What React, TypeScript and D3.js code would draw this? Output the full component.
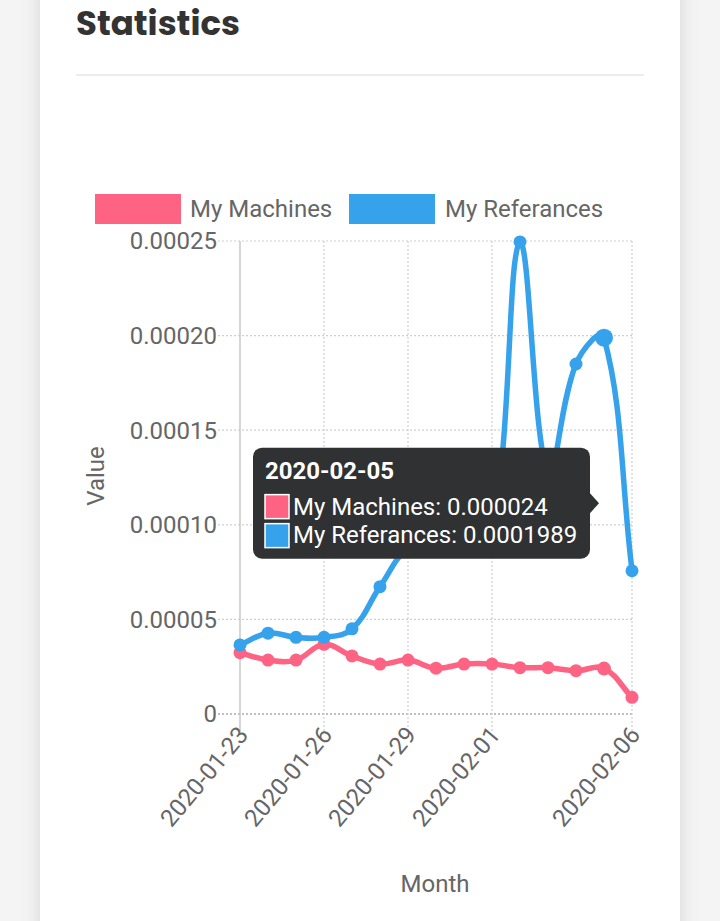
import React from "react";
import * as d3 from "d3";

const dates = [
  "2020-01-23", "2020-01-24", "2020-01-25", "2020-01-26", "2020-01-27",
  "2020-01-28", "2020-01-29", "2020-01-30", "2020-01-31", "2020-02-01",
  "2020-02-02", "2020-02-03", "2020-02-04", "2020-02-05", "2020-02-06",
];
const machines = [
  0.0000324, 0.0000285, 0.0000285, 0.0000368, 0.0000307,
  0.0000264, 0.0000285, 0.0000242, 0.0000264, 0.0000264,
  0.0000245, 0.0000245, 0.0000229, 0.000024, 0.0000088,
];
const referances = [
  0.0000365, 0.0000427, 0.0000405, 0.0000405, 0.000045,
  0.0000673, 0.000088, 0.000093, 0.000095, 0.0000957,
  0.0002495, 0.000127, 0.000185, 0.0001989, 0.0000757,
];
const yTicks = [0, 0.00005, 0.0001, 0.00015, 0.0002, 0.00025];
const yTickLabels = ["0", "0.00005", "0.00010", "0.00015", "0.00020", "0.00025"];
const xLabelIdx = [0, 3, 6, 9, 14];
const seriesNames = ["My Machines", "My Referances"];
const seriesColors = ["#ff6384", "#36a2eb"];
const hoverIndex = 13;

const W = 720, H = 921;
const left = 240, right = 632, top = 241, bottom = 714;

const FONT = "Roboto, 'Noto Sans', sans-serif";
const FS = 24;

function splinePath(pts: [number, number][], t = 0.4) {
  const cps = pts.map((cur, i) => {
    const prev = i > 0 ? pts[i - 1] : cur;
    const next = i < pts.length - 1 ? pts[i + 1] : cur;
    const d01 = Math.hypot(cur[0] - prev[0], cur[1] - prev[1]);
    const d12 = Math.hypot(next[0] - cur[0], next[1] - cur[1]);
    let s01 = d01 / (d01 + d12);
    let s12 = d12 / (d01 + d12);
    if (isNaN(s01)) s01 = 0;
    if (isNaN(s12)) s12 = 0;
    const fa = t * s01, fb = t * s12;
    const clampX = (v: number) => Math.max(left, Math.min(right, v));
    const clampY = (v: number) => Math.max(top, Math.min(bottom, v));
    return {
      p: [clampX(cur[0] - fa * (next[0] - prev[0])), clampY(cur[1] - fa * (next[1] - prev[1]))],
      n: [clampX(cur[0] + fb * (next[0] - prev[0])), clampY(cur[1] + fb * (next[1] - prev[1]))],
    };
  });
  const path = d3.path();
  pts.forEach((pt, i) => {
    if (i === 0) path.moveTo(pt[0], pt[1]);
    else path.bezierCurveTo(cps[i - 1].n[0], cps[i - 1].n[1], cps[i].p[0], cps[i].p[1], pt[0], pt[1]);
  });
  return path.toString();
}

export default function App() {
  const x = d3.scalePoint<string>().domain(dates).range([left, right]);
  const y = d3.scaleLinear().domain([0, 0.00025]).range([bottom, top]);
  const series = [machines, referances];

  // tooltip geometry from hovered points
  const hx = x(dates[hoverIndex])!;
  const hy = d3.mean(series.map((s) => y(s[hoverIndex])))!;
  const tipX = hx - 5;
  const boxW = 337, boxH = 111;
  const boxR = tipX - 9;
  const boxL = boxR - boxW;
  const boxT = hy - boxH / 2;
  const tipFill = "#2f3133";

  return (
    <svg width={W} height={H} style={{ position: "absolute", left: 0, top: 0 }} fontFamily={FONT}>
      <defs>
        <filter id="sh" x="-10%" y="-10%" width="120%" height="120%">
          <feDropShadow dx="0" dy="0" stdDeviation="9" floodColor="#000" floodOpacity="0.13" />
        </filter>
      </defs>
      <rect x={0} y={0} width={W} height={H} fill="#f4f4f4" />
      <rect x={40} y={-30} width={640} height={H + 60} fill="#fff" filter="url(#sh)" />

      <text x={76} y={35} fontFamily="Poppins, Inter, sans-serif" fontWeight={700} fontSize={34} fill="#333">Statistics</text>
      <line x1={76} x2={644} y1={75} y2={75} stroke="#ececec" strokeWidth={2} />

      {/* legend */}
      <rect x={95} y={194} width={86} height={30} fill={seriesColors[0]} />
      <text x={190} y={209} dy="0.35em" fontSize={FS} fill="#666">{seriesNames[0]}</text>
      <rect x={349} y={194} width={86} height={30} fill={seriesColors[1]} />
      <text x={445} y={209} dy="0.35em" fontSize={FS} fill="#666">{seriesNames[1]}</text>

      {/* horizontal grid + y labels */}
      {yTicks.map((v, i) => (
        <g key={"y" + i}>
          <line x1={218} x2={right} y1={y(v)} y2={y(v)}
            stroke={v === 0 ? "#aaa" : "#d0d0d0"} strokeWidth={v === 0 ? 1.5 : 1.2} strokeDasharray="2,2" />
          <text x={217} y={y(v)} dy="0.35em" textAnchor="end" fontSize={FS} fill="#666">{yTickLabels[i]}</text>
        </g>
      ))}

      {/* vertical grid + x labels */}
      {xLabelIdx.map((idx, i) => {
        const xv = x(dates[idx])!;
        return (
          <g key={"x" + idx}>
            <line x1={xv} x2={xv} y1={top} y2={733}
              stroke={i === 0 ? "#c8c8c8" : "#d0d0d0"} strokeWidth={i === 0 ? 1.5 : 1.2}
              strokeDasharray={i === 0 ? undefined : "2,2"} />
            <text transform={`translate(${xv + 3},${730}) rotate(-50)`} dy="0.35em" textAnchor="end" fontSize={FS} fill="#666">{dates[idx]}</text>
          </g>
        );
      })}

      <text transform={`translate(96,476) rotate(-90)`} textAnchor="middle" dy="0.35em" fontSize={FS} fill="#666">Value</text>
      <text x={435} y={884} textAnchor="middle" dy="0.35em" fontSize={FS} fill="#666">Month</text>

      {/* series */}
      {series.map((s, si) => {
        const pts = s.map((v, i) => [x(dates[i])!, y(v)] as [number, number]);
        return (
          <g key={"s" + si}>
            <path d={splinePath(pts)} fill="none" stroke={seriesColors[si]} strokeWidth={5.5} />
            {pts.map((p, i) => (
              <circle key={i} cx={p[0]} cy={p[1]} r={i === hoverIndex ? (si === 1 ? 9 : 7) : 6.5} fill={seriesColors[si]} />
            ))}
          </g>
        );
      })}

      {/* tooltip */}
      <g>
        <rect x={boxL} y={boxT} width={boxW} height={boxH} rx={9} fill={tipFill} />
        <path d={`M${boxR},${hy - 10}L${tipX},${hy}L${boxR},${hy + 10}Z`} fill={tipFill} />
        <text x={boxL + 12} y={boxT + 31} fontSize={FS} fontWeight={700} fill="#fff">{dates[hoverIndex]}</text>
        {series.map((s, si) => (
          <g key={"t" + si}>
            <rect x={boxL + 12} y={boxT + 47 + si * 29} width={24} height={24} fill={seriesColors[si]} stroke="#fff" strokeWidth={1.5} />
            <text x={boxL + 40} y={boxT + 67 + si * 28} fontSize={FS} fill="#fff">{`${seriesNames[si]}: ${s[hoverIndex]}`}</text>
          </g>
        ))}
      </g>
    </svg>
  );
}
